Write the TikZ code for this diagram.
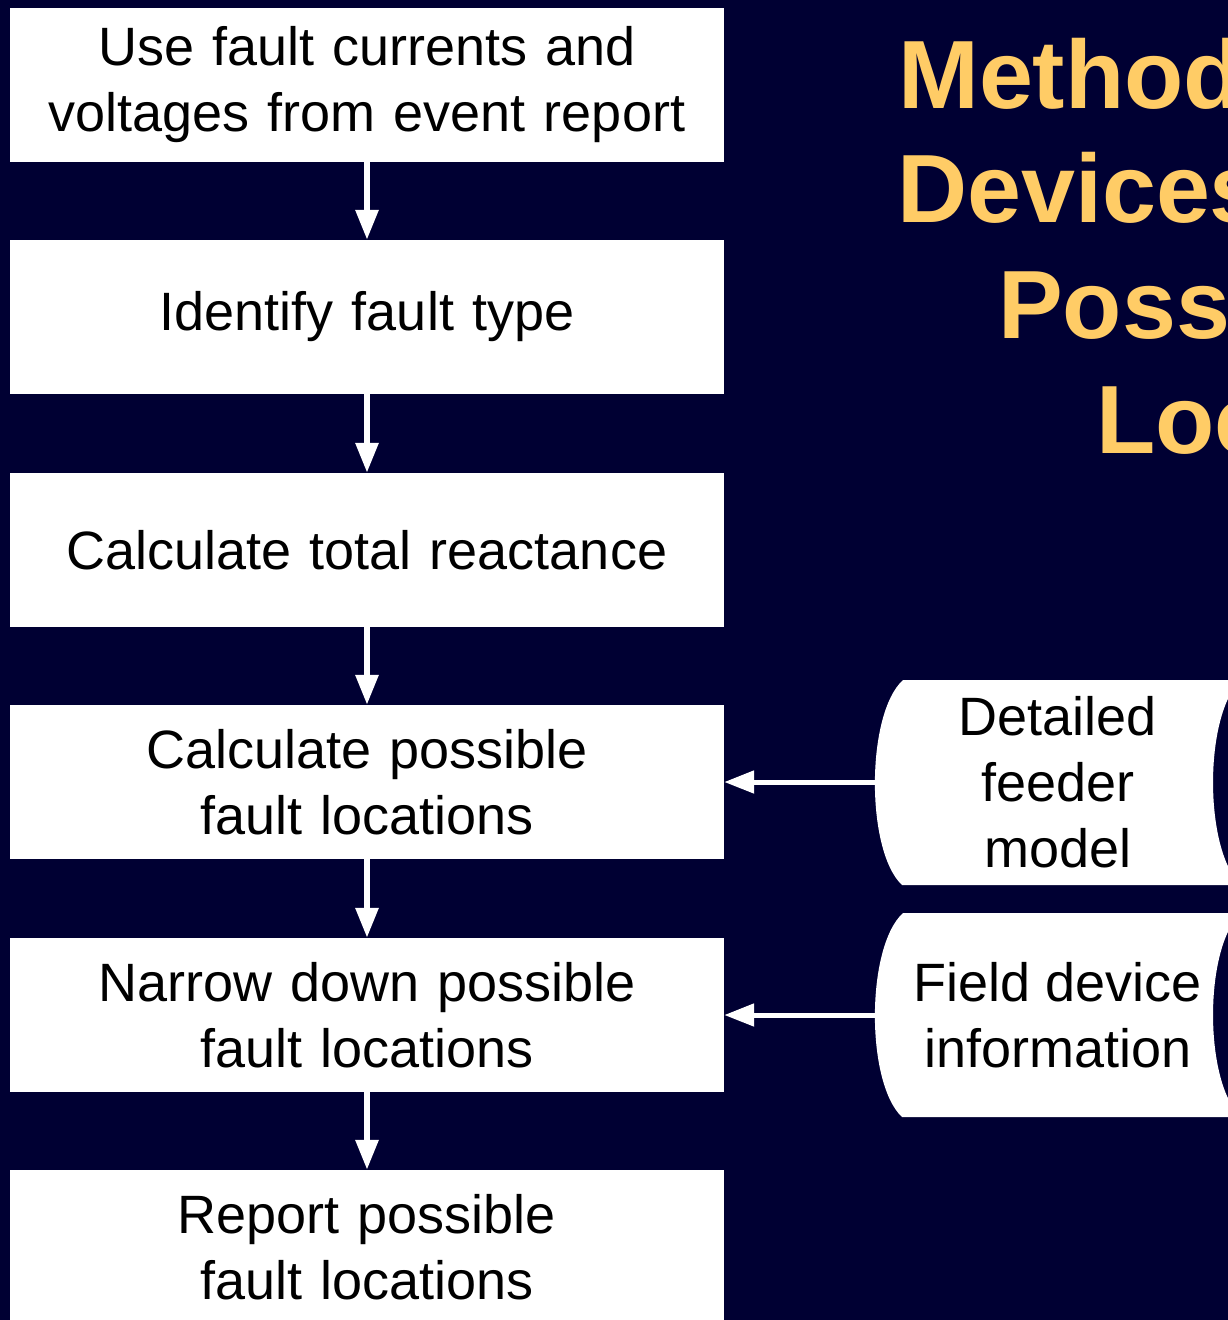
\documentclass[tikz,border=0pt]{standalone}
\usepackage{fontspec}
\setmainfont{Liberation Sans}
\usetikzlibrary{arrows.meta}
\definecolor{bg}{HTML}{000033}
\definecolor{titlec}{HTML}{FFCC66}
\tikzset{
  stepbox/.style={draw=none, fill=white, minimum width=714pt, minimum height=154pt, inner sep=0pt,
    text width=700pt, align=center, font=\fontsize{54}{66}\selectfont, text=black},
  flow/.style={draw=white, line width=6pt, -{Triangle[length=30pt,width=22pt]}},
  side/.style={draw=white, line width=5pt, -{Triangle[length=30pt,width=22pt]}},
  store/.style={fill=white, draw=none},
  storetext/.style={align=center, font=\fontsize{54}{66}\selectfont, text=black, inner sep=0pt},
  titletext/.style={anchor=base west, inner sep=0pt, text=titlec, font=\fontsize{97}{115}\bfseries\selectfont}
}
\begin{document}
\begin{tikzpicture}[x=1pt,y=-1pt]
\useasboundingbox (0,0) rectangle (1228,1320);
\clip (0,0) rectangle (1228,1320);
\fill[bg] (0,0) rectangle (1228,1320);

% title (cropped at the right edge, as in the reference)
\node[titletext] (t1) at (898,108) {Method};
\node[titletext] (t2) at (897,222) {Devices};
\node[titletext] (t3) at (998,338) {Poss};
\node[titletext] (t4) at (1096,453) {Loc};

% flow boxes
\node[stepbox] (b1) at (367,85) {Use fault currents and\\voltages from event report};
\node[stepbox] (b2) at (367,317) {Identify fault type};
\node[stepbox] (b3) at (367,550) {Calculate total reactance};
\node[stepbox] (b4) at (367,782) {Calculate possible\\fault locations};
\node[stepbox] (b5) at (367,1015) {Narrow down possible\\fault locations};
\node[stepbox] (b6) at (367,1247) {Report possible\\fault locations};

\draw[flow] (b1.south) -- (b2.north);
\draw[flow] ([yshift=4pt]b2.south) -- (b3.north);
\draw[flow] (b3.south) -- (b4.north);
\draw[flow] (b4.south) -- (b5.north);
\draw[flow] (b5.south) -- (b6.north);

% stored data shapes
\fill[store] (903,680) -- (1241,680) .. controls (1203.7,714) and (1203.7,851) .. (1241,885)
  -- (902,885) .. controls (865.7,851) and (865.7,714) .. cycle;
\coordinate (s1w) at (876,782);
\node[storetext] (s1) at (1058,782) {Detailed\\feeder\\model};

\fill[store] (903,913) -- (1241,913) .. controls (1203.7,947) and (1203.7,1083) .. (1241,1117)
  -- (902,1117) .. controls (865.7,1083) and (865.7,947) .. cycle;
\coordinate (s2w) at (876,1015);
\node[storetext] (s2) at (1058,1015) {Field device\\information};

\draw[side] (s1w) -- (b4.east);
\draw[side] (s2w) -- (b5.east);
\end{tikzpicture}
\end{document}
